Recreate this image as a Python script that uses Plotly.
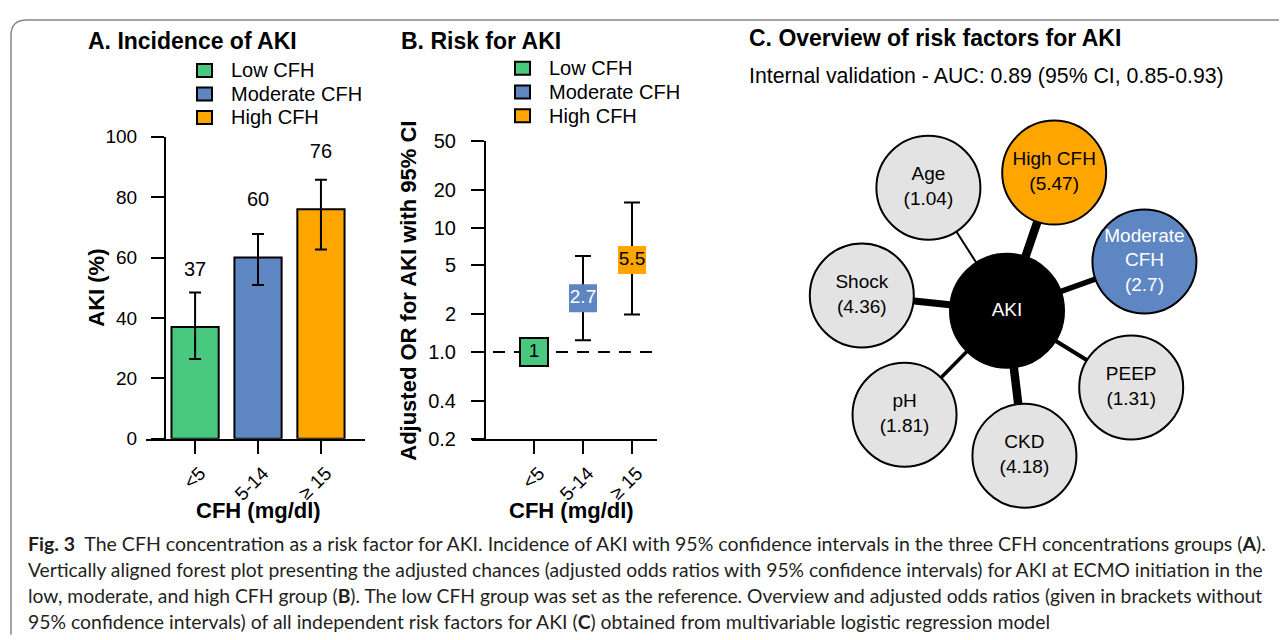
import math
import plotly.graph_objects as go

# reference pixel space, and how the figure lands in the photographed page
W, H = 1287, 640
OX = 8                      # horizontal page offset of the figure
TY, SY = 18.2, 0.966        # vertical offset / scale observed for the figure
FW = W - 2 * OX
FH = 644

# ---------------- data ----------------
groups = ["Low CFH", "Moderate CFH", "High CFH"]
cfh_ticks = ["<5", "5-14", "\u2265 15"]

aki_pct = [37, 60, 76]
aki_ci_low = [26.4, 50.9, 62.7]
aki_ci_high = [48.4, 67.8, 85.8]
aki_ticks = [0, 20, 40, 60, 80, 100]

or_vals = [1.0, 2.7, 5.5]
or_labels = ["1", "2.7", "5.5"]
or_ci_low = [None, 1.24, 2.0]
or_ci_high = [None, 5.9, 15.9]
or_ticks = [0.2, 0.4, 1, 2, 5, 10, 20, 50]
or_ticktext = ["0.2", "0.4", "1.0", "2", "5", "10", "20", "50"]

factors = ["Shock", "Age", "High CFH", "Moderate<br>CFH", "PEEP", "CKD", "pH"]
factor_or = [4.36, 1.04, 5.47, 2.7, 1.31, 4.18, 1.81]
outcome = "AKI"

# ---------------- styles ----------------
FONT = "Liberation Sans, Arial, sans-serif"
CAP_FONT = "Lato, Open Sans, sans-serif"
GREEN, BLUE, ORANGE, GRAY = "#48C97F", "#5E86C3", "#FFA500", "#E3E3E3"
group_colors = [GREEN, BLUE, ORANGE]
factor_fill = [GRAY, GRAY, ORANGE, BLUE, GRAY, GRAY, GRAY]
factor_textcol = ["black", "black", "black", "white", "black", "black", "black"]
edge_widths = [7, 2, 8.5, 5.5, 4, 8.5, 3.5]


def px(x):
    return (x - OX) / FW


def py(y):
    return 1 - ((y - TY) / SY) / FH


fig = go.Figure()

# ---------------- Panel A ----------------
xs = list(range(len(groups)))
fig.add_trace(go.Bar(
    x=xs, y=aki_pct, width=0.75,
    marker=dict(color=group_colors, line=dict(color="black", width=2)),
    error_y=dict(type="data", symmetric=False,
                 array=[h - v for h, v in zip(aki_ci_high, aki_pct)],
                 arrayminus=[v - l for v, l in zip(aki_pct, aki_ci_low)],
                 color="black", thickness=2, width=6),
    xaxis="x", yaxis="y", showlegend=False, hoverinfo="skip"))
fig.add_trace(go.Scatter(
    x=xs, y=[v + 18.7 for v in aki_pct], text=[str(v) for v in aki_pct],
    mode="text", textfont=dict(family=FONT, size=20, color="black"),
    xaxis="x", yaxis="y", showlegend=False, hoverinfo="skip"))

# ---------------- Panel B ----------------
fig.add_trace(go.Scatter(
    x=xs, y=or_vals, mode="markers+text", text=or_labels,
    textposition="middle center",
    textfont=dict(family=FONT, size=19, color=["black", "white", "black"]),
    marker=dict(symbol="square", size=28, color=group_colors, opacity=1,
                line=dict(color="black", width=[2, 0, 0])),
    error_y=dict(type="data", symmetric=False,
                 array=[None if h is None else h - v for h, v in zip(or_ci_high, or_vals)],
                 arrayminus=[None if l is None else v - l for v, l in zip(or_vals, or_ci_low)],
                 color="black", thickness=2, width=8),
    xaxis="x2", yaxis="y2", showlegend=False, hoverinfo="skip"))

# ---------------- Panel C (network) ----------------
R = 146
ang0, step = 174.0, 360.0 / len(factors)
nx = [R * math.cos(math.radians(ang0 - i * step)) for i in range(len(factors))]
ny = [R * math.sin(math.radians(ang0 - i * step)) for i in range(len(factors))]
for i in range(len(factors)):
    fig.add_trace(go.Scatter(
        x=[0, nx[i]], y=[0, ny[i]], mode="lines",
        line=dict(color="black", width=edge_widths[i]),
        xaxis="x3", yaxis="y3", showlegend=False, hoverinfo="skip"))
fig.add_trace(go.Scatter(
    x=nx + [0], y=ny + [0], mode="markers+text",
    text=[f"{f}<br>({o})" for f, o in zip(factors, factor_or)] + [outcome],
    textposition="middle center",
    textfont=dict(family=FONT, size=19, color=factor_textcol + ["white"]),
    marker=dict(size=[104] * len(factors) + [114], opacity=1,
                color=factor_fill + ["black"],
                line=dict(color="black", width=2)),
    xaxis="x3", yaxis="y3", showlegend=False, hoverinfo="skip"))

axis_common = dict(showgrid=False, zeroline=False, linecolor="black", linewidth=2,
                   ticks="outside", ticklen=13, tickwidth=2, tickcolor="black")
cat_ticks = dict(tickvals=xs, ticktext=cfh_ticks, tickangle=-45,
                 tickfont=dict(size=19), ticklabelstandoff=1, ticklabelshift=5)

fig.update_layout(
    width=FW, height=FH, margin=dict(l=0, r=0, t=0, b=0),
    paper_bgcolor="white", plot_bgcolor="rgba(0,0,0,0)",
    font=dict(family=FONT, color="black"),
    xaxis=dict(domain=[px(146), px(365)], range=[-0.78, 2.7], anchor="y",
               showline=True, **cat_ticks, **axis_common),
    yaxis=dict(domain=[py(438), py(136)], range=[0, 100], anchor="free",
               position=px(165), showline=True, tickvals=aki_ticks,
               tickfont=dict(size=19), ticklabelstandoff=10, **axis_common),
    xaxis2=dict(domain=[px(472), px(657)], range=[-1.265, 2.51], anchor="y2",
                showline=True, **cat_ticks, **axis_common),
    yaxis2=dict(domain=[py(438), py(140)], type="log",
                range=[math.log10(0.2), math.log10(50)], anchor="free",
                position=px(485), showline=True, tickvals=or_ticks,
                ticktext=or_ticktext, tickfont=dict(size=20),
                ticklabelstandoff=11, **axis_common),
    xaxis3=dict(domain=[px(780), px(1240)], range=[780 - 1007, 1240 - 1007],
                visible=False, anchor="y3"),
    yaxis3=dict(domain=[py(515), py(110)], range=[310 - 515, 310 - 110],
                visible=False, anchor="x3"),
)

shapes = []
annotations = []

# dashed reference line at OR = 1
shapes.append(dict(type="line", xref="x2 domain", yref="y2", x0=0, x1=1,
                   y0=1, y1=1, layer="below",
                   line=dict(color="black", width=2, dash="12px,9px")))

# frame (top edge kept just inside the figure)
top = min(py(11), 1 - 1.0 / FH)
rr = 16
shapes.append(dict(type="path", xref="paper", yref="paper",
                   path=(f"M {px(11)},{py(634)} L {px(11)},{top - rr / FH} "
                         f"Q {px(11)},{top} {px(11 + rr)},{top} L 1,{top}"),
                   line=dict(color="#858585", width=1.5)))


def legend(x_sq, y_first, x_text, gap):
    for k, (g, c) in enumerate(zip(groups, group_colors)):
        yc = y_first + k * gap
        shapes.append(dict(type="rect", xref="paper", yref="paper",
                           x0=px(x_sq), x1=px(x_sq + 15), y0=py(yc + 6.5), y1=py(yc - 6.5),
                           fillcolor=c, line=dict(color="black", width=2)))
        annotations.append(dict(x=px(x_text), y=py(yc), xref="paper", yref="paper",
                                text=g, showarrow=False, xanchor="left", yanchor="middle",
                                font=dict(size=20, family=FONT)))


legend(197, 69.6, 229, 23.5)
legend(515, 67.5, 547, 23.7)


def text(x, y, s, size, xanchor="center", angle=0, family=FONT, color="black"):
    annotations.append(dict(x=px(x), y=py(y), xref="paper", yref="paper", text=s,
                            showarrow=False, xanchor=xanchor, yanchor="middle",
                            textangle=angle, font=dict(size=size, family=family, color=color)))


text(86, 40, "<b>A. Incidence of AKI</b>", 23, "left")
text(399, 40, "<b>B. Risk for AKI</b>", 23, "left")
text(747, 37, "<b>C. Overview of risk factors for AKI</b>", 23, "left")
text(747, 75, "Internal validation - AUC: 0.89 (95% CI, 0.85-0.93)", 21.3, "left")
text(97, 287, "<b>AKI (%)</b>", 22, angle=-90)
text(409, 290, "<b>Adjusted OR for AKI with 95% CI</b>", 22, angle=-90)
text(258, 510, "<b>CFH (mg/dl)</b>", 22)
text(571, 510, "<b>CFH (mg/dl)</b>", 22)

caption = [
    "<b>Fig. 3</b>&nbsp;&nbsp;The CFH concentration as a risk factor for AKI. Incidence of AKI with 95% confidence intervals in the three CFH concentrations groups (<b>A</b>).",
    "Vertically aligned forest plot presenting the adjusted chances (adjusted odds ratios with 95% confidence intervals) for AKI at ECMO initiation in the",
    "low, moderate, and high CFH group (<b>B</b>). The low CFH group was set as the reference. Overview and adjusted odds ratios (given in brackets without",
    "95% confidence intervals) of all independent risk factors for AKI (<b>C</b>) obtained from multivariable logistic regression model",
]
caption_sizes = [19.5, 19.25, 19.3, 19.4]
for k, line in enumerate(caption):
    text(26, 543 + 26 * k, line, caption_sizes[k], "left", family=CAP_FONT, color="#231F20")

fig.update_layout(shapes=shapes, annotations=annotations)
fig.write_html("out.html")
